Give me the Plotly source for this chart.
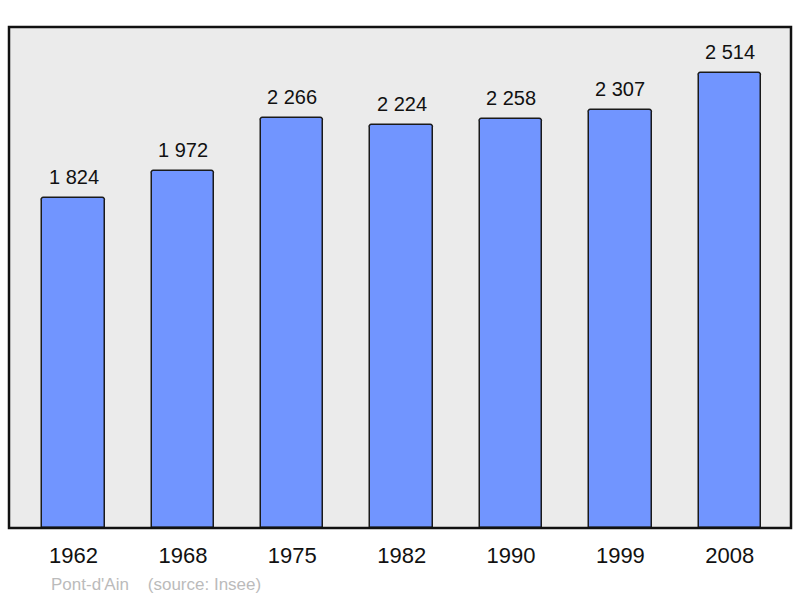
import plotly.graph_objects as go

years = ["1962", "1968", "1975", "1982", "1990", "1999", "2008"]
population = [1824, 1972, 2266, 2224, 2258, 2307, 2514]
value_labels = ["1 824", "1 972", "2 266", "2 224", "2 258", "2 307", "2 514"]

xpos = list(range(len(years)))

fig = go.Figure()
fig.add_trace(go.Bar(
    x=xpos, y=population, width=0.57,
    marker=dict(color="#7195FF", line=dict(color="#1a1a1a", width=1.5), cornerradius=3),
    hoverinfo="skip",
))

for xi, v, lab in zip(xpos, population, value_labels):
    fig.add_annotation(x=xi, y=v, text=lab, showarrow=False, yanchor="bottom", yshift=8,
                       font=dict(family="Liberation Sans, Arial", size=20, color="#111"))

fig.update_layout(
    width=800, height=598,
    margin=dict(l=9, r=9, t=27, b=70),
    paper_bgcolor="white", plot_bgcolor="#EBEBEB",
    showlegend=False,
    xaxis=dict(range=[-0.59, 6.56], tickmode="array", tickvals=xpos, ticktext=years,
               showgrid=False, zeroline=False, ticks="", ticklen=0,
               tickfont=dict(family="Liberation Sans, Arial", size=22, color="#111")),
    yaxis=dict(range=[0, 2768], showgrid=False, zeroline=False, showticklabels=False, ticks=""),
    bargap=0,
)
fig.update_xaxes(ticklabelstandoff=12)

fig.add_shape(type="rect", xref="paper", yref="paper", x0=0, x1=1, y0=0, y1=1,
              line=dict(color="#111", width=2.5), layer="above")

fig.add_annotation(xref="paper", yref="paper", x=(49 - 9) / 782, y=-(584 - 528) / 501,
                   xanchor="left", yanchor="middle", showarrow=False,
                   text="Pont-d'Ain    (source: Insee)",
                   font=dict(family="Liberation Sans, Arial", size=17, color="#BBBBBB"))

fig.write_html("out.html", config={"displayModeBar": False},
               post_script="document.body.style.margin='0';")
